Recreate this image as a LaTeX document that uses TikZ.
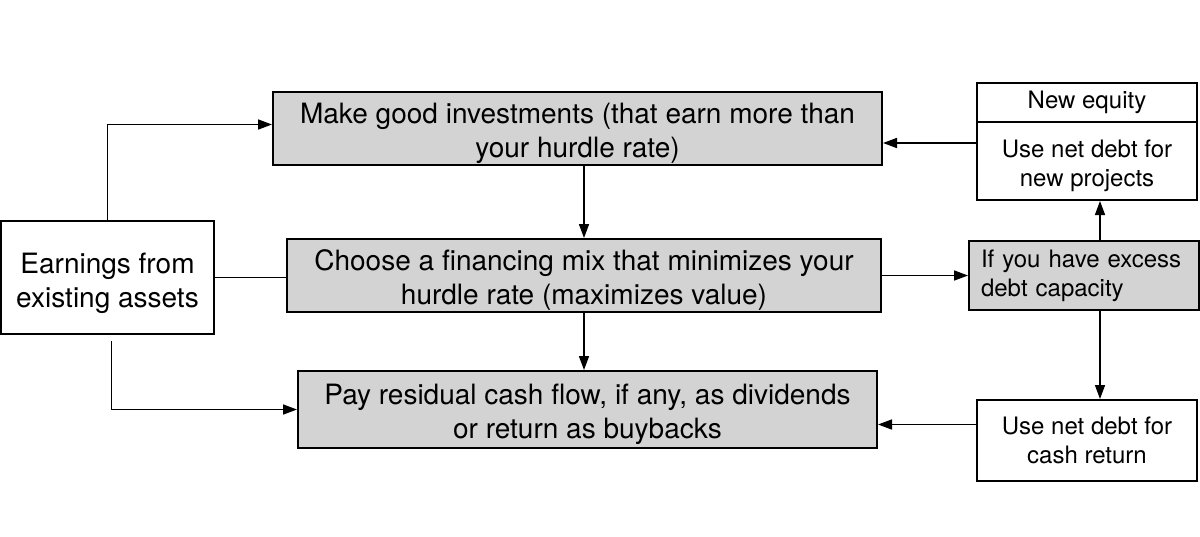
\documentclass[tikz,border=0pt]{standalone}
\usepackage{fontspec}
\setmainfont{TeX Gyre Heros}
\usetikzlibrary{positioning,arrows.meta}
\definecolor{boxgray}{RGB}{211,211,211}
\newcommand{\topstrut}[1]{\rule{0pt}{#1}}

\begin{document}
\begin{tikzpicture}[x=0.5pt,y=-0.5pt,
    box/.style={draw,line width=1pt,inner sep=0pt,align=center,font=\fontsize{14}{17}\selectfont},
    smallbox/.style={draw,line width=1pt,inner sep=0pt,align=center,font=\fontsize{12}{14.5}\selectfont},
    arr/.style={line width=0.8pt,-{Triangle[length=7pt,width=5pt]}}]
          \useasboundingbox (0,0) rectangle (1200,536);
          \node[box,fill=boxgray,minimum width=304.5pt,minimum height=36.5pt] (make) at (577.5,128.5) {\topstrut{15pt}Make good investments (that earn more than\\your hurdle rate)};
          \node[box,fill=boxgray,minimum width=297pt,minimum height=36.5pt] (mix) at (584,275.5) {\topstrut{15pt}Choose a financing mix that minimizes your\\hurdle rate (maximizes value)};
          \node[box,fill=boxgray,minimum width=289.5pt,minimum height=38.5pt] (pay) at (587.5,409.5) {\topstrut{15pt}Pay residual cash flow, if any, as dividends\\or return as buybacks};
          \node[box,minimum width=106.5pt,minimum height=56.5pt] (earn) at (107.5,277.5) {\topstrut{16pt}Earnings from\\existing assets};
          \node[smallbox,minimum width=110pt,minimum height=19.5pt] (equity) at (1087,102.5) {New equity};
          \node[smallbox,minimum width=110pt,minimum height=39pt] (newproj) at (1087,161) {\topstrut{14pt}Use net debt for\\new projects};
          \node[smallbox,fill=boxgray,align=left,text width=103pt,inner xsep=6pt,minimum height=34.5pt] (excess) at (1084,275.5) {If you have excess\\debt capacity};
          \node[smallbox,minimum width=110pt,minimum height=40.5pt] (cashret) at (1087,440.5) {Use net debt for\\cash return};
          \draw[arr] (earn.north) |- ([yshift=2pt]make.west);
          \draw[line width=0.8pt] (earn.east) -- (earn.east -| mix.west);
          \draw[arr] ([xshift=2pt,yshift=-3pt]earn.south) |- (pay.west);
          \draw[arr] (mix.north |- make.south) -- (mix.north);
          \draw[arr] (mix.south) -- (mix.south |- pay.north);
          \draw[arr] (mix.east) -- (excess.west);
          \draw[arr] ([xshift=8pt]excess.north) -- ([xshift=8pt]excess.north |- newproj.south);
          \draw[arr] ([xshift=8pt]excess.south) -- ([xshift=8pt]excess.south |- cashret.north);
          \draw[arr] ([yshift=9pt]newproj.west) -- ([yshift=9pt]newproj.west -| make.east);
          \draw[arr] ([yshift=8pt]cashret.west) -- ([yshift=8pt]cashret.west -| pay.east);
  \end{tikzpicture}
\end{document}
